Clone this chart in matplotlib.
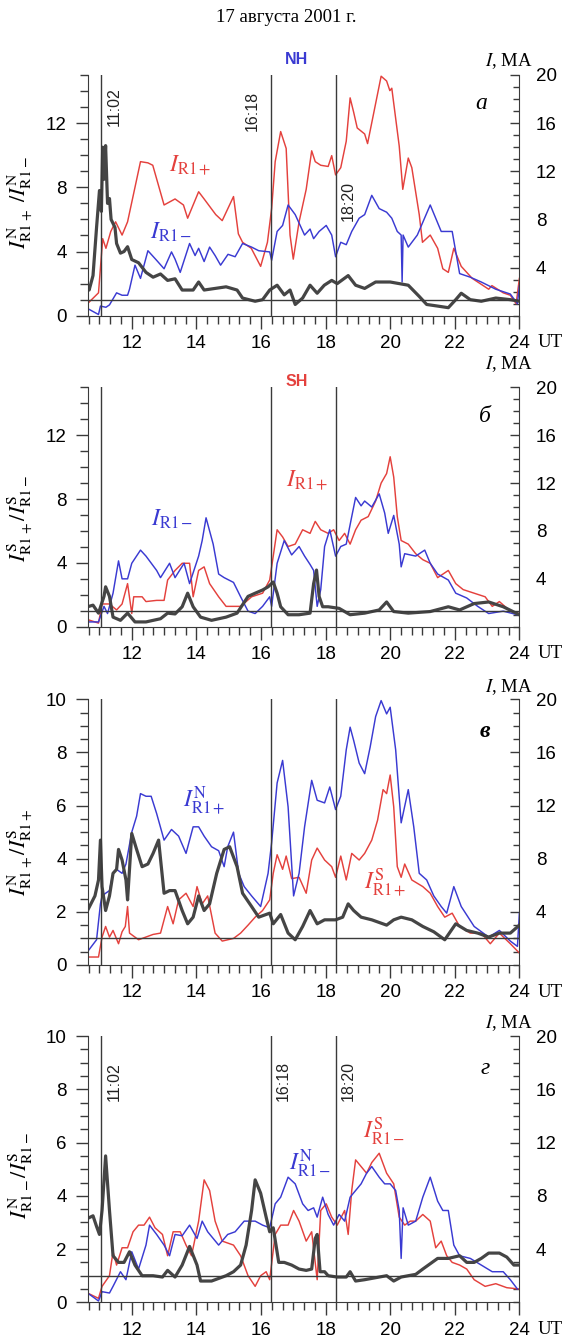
import numpy as np
import matplotlib
matplotlib.use("Agg")
import matplotlib.pyplot as plt
from matplotlib.ticker import MultipleLocator, FixedLocator

plt.rcParams['font.family'] = ['Liberation Sans', 'DejaVu Sans']
plt.rcParams['mathtext.fontset'] = 'stix'

# event times (UT, hours)
events = [11 + 2/60, 16 + 18/60, 18 + 20/60]
event_labels = ['11:02', '16:18', '18:20']

# ---- panel a (NH): I_R1+ (red), I_R1- (blue) in MA, ratio (black) ----
a_red_t = [10.63, 10.97, 11.10, 11.20, 11.35, 11.50, 11.70, 11.87, 12.27, 12.50, 12.65, 13.00, 13.34,
           13.60, 13.73, 14.07, 14.24, 14.60, 14.80, 15.15, 15.30, 15.43, 15.70, 15.99, 16.20, 16.33,
           16.44, 16.61, 16.78, 16.90, 17.00, 17.18, 17.40, 17.57, 17.68, 17.85, 18.08, 18.19, 18.31,
           18.47, 18.64, 18.76, 18.87, 18.98, 19.21, 19.30, 19.72, 19.89, 19.99, 20.05, 20.28, 20.39,
           20.56, 20.67, 20.90, 21.00, 21.24, 21.47, 21.63, 21.80, 21.97, 22.20, 22.54, 23.05, 23.15,
           23.50, 23.72, 23.90, 24.00]
a_red = [1.0, 1.9, 6.4, 5.6, 7.0, 7.8, 6.7, 7.8, 12.8, 12.7, 12.5, 9.2, 9.7,
         9.2, 8.1, 10.3, 9.7, 8.4, 7.9, 9.9, 6.8, 6.1, 5.6, 4.1, 6.1, 8.9,
         12.8, 15.3, 13.9, 6.7, 4.7, 7.8, 10.5, 13.7, 12.8, 12.5, 12.4, 13.3, 11.7,
         12.3, 14.5, 18.1, 16.9, 15.6, 15.1, 14.3, 19.9, 19.5, 18.7, 18.9, 14.1, 10.5,
         13.1, 12.3, 8.4, 6.1, 6.7, 5.6, 3.9, 3.6, 5.6, 4.1, 3.1, 2.2, 2.5,
         1.9, 1.7, 1.0, 3.1]
a_blue_t = [10.63, 10.97, 11.03, 11.20, 11.31, 11.53, 11.70, 11.87, 11.93, 12.10, 12.27, 12.50, 12.77,
            13.00, 13.23, 13.34, 13.50, 13.79, 13.96, 14.07, 14.24, 14.41, 14.58, 14.75, 14.98, 15.20,
            15.43, 15.71, 15.93, 16.27, 16.33, 16.50, 16.67, 16.84, 17.06, 17.35, 17.52, 17.63, 17.80,
            18.02, 18.19, 18.31, 18.47, 18.64, 18.81, 19.04, 19.21, 19.43, 19.66, 19.89, 20.05, 20.22,
            20.34, 20.37, 20.40, 20.56, 20.84, 21.24, 21.58, 21.92, 22.15, 22.48, 22.82, 23.27, 23.72,
            23.94, 24.00]
a_blue = [0.6, 0.1, 0.8, 0.7, 0.9, 1.9, 1.7, 1.7, 2.2, 4.2, 3.1, 5.4, 4.6,
          3.9, 5.3, 4.7, 3.6, 6.0, 5.0, 5.6, 4.5, 5.7, 5.0, 4.2, 5.1, 4.9,
          6.0, 5.7, 5.4, 5.3, 4.6, 7.0, 7.5, 9.2, 8.4, 6.7, 7.2, 6.4, 7.0,
          7.5, 6.7, 4.9, 6.1, 5.9, 7.0, 8.1, 8.4, 10.0, 8.9, 8.6, 8.1, 7.0,
          6.7, 2.8, 6.7, 5.7, 6.7, 9.2, 7.0, 7.0, 3.5, 3.2, 2.8, 2.2, 1.8,
          1.0, 2.5]
a_ratio_t = [10.63, 10.68, 10.80, 10.91, 11.00, 11.06, 11.10, 11.14, 11.19, 11.25, 11.31, 11.36, 11.48,
             11.53, 11.65, 11.76, 11.87, 12.00, 12.21, 12.44, 12.66, 12.89, 13.11, 13.34, 13.56, 13.90,
             14.07, 14.24, 14.58, 14.92, 15.26, 15.43, 15.82, 16.05, 16.27, 16.50, 16.72, 16.90, 17.06,
             17.29, 17.52, 17.74, 17.96, 18.19, 18.36, 18.70, 18.93, 19.21, 19.55, 20.00, 20.28, 20.56,
             20.90, 21.13, 21.47, 21.80, 22.03, 22.20, 22.48, 22.82, 23.27, 23.72, 24.00]
a_ratio = [1.9, 1.6, 2.5, 5.5, 7.8, 6.5, 10.5, 8.5, 10.6, 7.0, 7.3, 6.0, 5.5,
           4.5, 3.9, 4.0, 4.3, 3.5, 3.3, 2.7, 2.4, 2.6, 2.2, 2.3, 1.6, 1.6,
           2.1, 1.6, 1.7, 1.8, 1.6, 1.1, 0.9, 1.0, 1.6, 1.9, 1.3, 1.6, 0.7,
           1.1, 1.9, 1.4, 1.9, 2.2, 2.0, 2.5, 1.9, 1.7, 2.1, 2.1, 2.0, 1.9,
           1.2, 0.7, 0.6, 0.5, 1.0, 1.4, 1.0, 0.9, 1.1, 1.0, 0.9]

# ---- panel b (SH) ----
b_red_t = [10.63, 10.97, 11.08, 11.31, 11.53, 11.70, 11.87, 12.00, 12.06, 12.32, 12.44, 12.77, 13.00,
           13.11, 13.34, 13.56, 13.79, 13.90, 14.07, 14.24, 14.41, 14.69, 14.92, 15.37, 15.71, 16.05,
           16.27, 16.38, 16.50, 16.67, 16.84, 17.06, 17.29, 17.52, 17.68, 17.85, 18.08, 18.25, 18.42,
           18.59, 18.76, 18.93, 19.10, 19.32, 19.55, 19.72, 19.89, 20.00, 20.11, 20.22, 20.34, 20.56,
           20.79, 21.01, 21.24, 21.47, 21.80, 22.03, 22.26, 22.60, 22.94, 23.16, 23.38, 23.72, 24.00]
b_red = [0.6, 0.3, 1.9, 1.9, 1.4, 1.9, 3.6, 1.1, 2.5, 2.5, 2.1, 2.2, 2.2,
         3.9, 4.7, 5.3, 5.3, 2.5, 4.7, 5.0, 3.6, 2.5, 1.7, 1.7, 2.5, 2.8,
         3.9, 5.9, 8.1, 7.5, 6.7, 6.9, 8.1, 7.8, 8.8, 8.1, 7.8, 8.1, 7.2,
         7.8, 6.9, 8.1, 8.9, 9.2, 10.5, 12.0, 12.8, 14.2, 12.5, 9.2, 7.2, 6.9,
         6.1, 5.6, 5.3, 4.1, 4.7, 3.6, 3.1, 2.8, 2.5, 1.7, 2.1, 1.3, 1.1]
b_blue_t = [10.63, 10.97, 11.14, 11.25, 11.42, 11.59, 11.70, 11.87, 12.00, 12.27, 12.44, 12.77, 12.89,
            13.17, 13.34, 13.62, 13.79, 14.07, 14.18, 14.30, 14.52, 14.69, 14.86, 15.15, 15.37, 15.60,
            15.82, 16.05, 16.27, 16.33, 16.50, 16.72, 16.95, 17.18, 17.35, 17.52, 17.63, 17.74, 17.85,
            17.97, 18.13, 18.31, 18.47, 18.64, 18.81, 18.93, 19.10, 19.21, 19.43, 19.66, 19.83, 19.94,
            20.11, 20.28, 20.34, 20.45, 20.79, 21.07, 21.24, 21.47, 21.80, 22.03, 22.37, 22.71, 23.05,
            23.50, 23.94]
b_blue = [0.4, 0.4, 1.7, 1.1, 2.8, 5.5, 4.0, 4.0, 5.3, 6.4, 5.9, 4.7, 4.1,
          5.3, 4.1, 5.3, 3.6, 5.9, 7.2, 9.1, 6.9, 4.4, 4.1, 3.7, 2.5, 1.3,
          1.1, 1.7, 2.5, 1.7, 5.3, 7.2, 6.0, 6.7, 5.9, 5.2, 4.7, 1.7, 3.1,
          6.7, 8.1, 5.9, 6.7, 6.9, 9.2, 10.8, 10.1, 10.5, 10.0, 11.1, 9.5, 7.8,
          9.3, 6.9, 5.0, 6.1, 5.9, 6.4, 5.3, 4.4, 3.9, 2.8, 2.4, 1.7, 1.1,
          1.3, 1.0]
b_ratio_t = [10.63, 10.80, 10.97, 11.14, 11.19, 11.31, 11.42, 11.65, 11.87, 12.10, 12.44, 12.89, 13.11,
             13.34, 13.56, 13.73, 13.90, 14.13, 14.47, 14.92, 15.26, 15.60, 15.82, 16.05, 16.22, 16.38,
             16.50, 16.61, 16.84, 17.18, 17.52, 17.63, 17.72, 17.80, 17.91, 18.08, 18.42, 18.76, 19.21,
             19.66, 19.89, 20.11, 20.56, 21.24, 21.80, 22.15, 22.60, 23.05, 23.50, 24.00]
b_ratio = [1.25, 1.35, 0.85, 1.9, 2.5, 1.9, 0.6, 0.4, 0.85, 0.3, 0.3, 0.5, 0.85,
           0.8, 1.25, 2.1, 1.25, 0.6, 0.4, 0.6, 0.85, 1.9, 2.1, 2.3, 2.5, 2.8,
           2.1, 1.25, 0.75, 0.75, 0.85, 2.7, 3.55, 1.9, 1.25, 1.25, 1.15, 0.75, 0.85,
           1.05, 1.55, 0.95, 0.85, 0.95, 1.25, 1.05, 1.45, 1.55, 1.25, 0.75]

# ---- panel c: I^N_R1+ (blue), I^S_R1+ (red) ----
c_blue_t = [10.63, 10.91, 11.03, 11.08, 11.19, 11.31, 11.42, 11.53, 11.70, 11.82, 12.00, 12.15, 12.27,
            12.44, 12.60, 12.77, 13.00, 13.23, 13.45, 13.68, 13.90, 14.07, 14.24, 14.47, 14.69, 14.86,
            14.97, 15.15, 15.31, 15.48, 15.71, 15.99, 16.22, 16.33, 16.50, 16.67, 16.84, 17.01, 17.18,
            17.35, 17.57, 17.74, 17.97, 18.13, 18.31, 18.47, 18.64, 18.76, 18.87, 19.04, 19.21, 19.38,
            19.55, 19.72, 19.89, 20.00, 20.17, 20.34, 20.56, 20.73, 20.90, 21.13, 21.35, 21.58, 21.75,
            21.97, 22.20, 22.60, 23.05, 23.38, 23.72, 23.94, 24.00]
c_blue = [1.0, 1.9, 4.6, 5.2, 5.4, 5.6, 6.9, 7.2, 6.9, 7.6, 10.0, 11.2, 12.9,
          12.7, 12.7, 11.4, 9.4, 10.2, 9.7, 8.4, 10.4, 10.4, 9.7, 8.9, 8.6, 7.4,
          8.9, 10.0, 6.9, 5.9, 5.2, 4.4, 6.9, 9.2, 13.7, 15.4, 11.9, 5.2, 6.9,
          10.4, 13.9, 12.4, 12.2, 13.4, 11.7, 12.7, 16.2, 17.9, 16.9, 15.2, 14.4, 16.4,
          18.7, 19.9, 18.9, 19.4, 16.2, 10.7, 13.2, 10.4, 6.9, 6.4, 5.2, 4.4, 3.9,
          5.9, 4.4, 2.9, 2.1, 2.6, 1.8, 1.4, 3.9]
c_red_t = [10.63, 10.97, 11.08, 11.19, 11.31, 11.42, 11.59, 11.70, 11.80, 11.87, 11.93, 12.21, 12.66,
           12.89, 13.11, 13.28, 13.45, 13.68, 13.90, 14.02, 14.18, 14.35, 14.58, 14.80, 15.15, 15.37,
           15.60, 15.82, 16.05, 16.27, 16.38, 16.50, 16.67, 16.78, 16.95, 17.18, 17.40, 17.57, 17.74,
           17.97, 18.19, 18.31, 18.47, 18.64, 18.81, 19.04, 19.21, 19.43, 19.61, 19.78, 19.89, 20.00,
           20.11, 20.22, 20.34, 20.45, 20.67, 21.01, 21.24, 21.47, 21.69, 21.92, 22.15, 22.48, 22.82,
           23.10, 23.38, 23.72, 24.00]
c_red = [0.6, 0.6, 2.1, 2.9, 2.1, 2.6, 1.6, 2.5, 2.9, 4.4, 2.4, 1.9, 2.3,
         2.4, 4.4, 3.1, 4.9, 5.4, 4.4, 5.9, 4.6, 5.2, 2.4, 1.8, 2.0, 2.4,
         3.0, 3.6, 4.1, 4.9, 6.9, 8.3, 7.2, 8.2, 6.5, 6.6, 5.4, 7.9, 8.8,
         7.9, 7.4, 6.6, 8.2, 6.4, 8.4, 7.9, 8.4, 9.4, 10.9, 13.2, 12.9, 14.3,
         11.9, 7.4, 6.6, 7.6, 6.4, 5.9, 5.4, 4.4, 3.6, 3.9, 2.9, 2.4, 2.4,
         1.6, 2.4, 1.6, 0.9]
c_ratio_t = [10.63, 10.86, 10.97, 11.03, 11.08, 11.19, 11.31, 11.42, 11.53, 11.59, 11.70, 11.82, 11.87,
             12.00, 12.15, 12.32, 12.50, 12.66, 12.83, 13.00, 13.17, 13.34, 13.56, 13.73, 13.90, 14.07,
             14.24, 14.41, 14.63, 14.86, 15.03, 15.26, 15.43, 15.71, 15.93, 16.27, 16.38, 16.61, 16.84,
             17.06, 17.29, 17.52, 17.74, 17.97, 18.31, 18.53, 18.70, 18.87, 19.10, 19.43, 19.89, 20.11,
             20.34, 20.67, 21.01, 21.35, 21.69, 22.03, 22.37, 22.71, 23.05, 23.38, 23.72, 24.00]
c_ratio = [2.05, 2.6, 3.2, 4.7, 2.95, 2.05, 2.6, 3.45, 3.6, 4.35, 3.95, 3.2, 2.45,
           4.95, 4.35, 3.7, 3.8, 4.2, 4.7, 2.7, 2.8, 2.8, 2.05, 1.55, 1.8, 2.6,
           2.05, 2.3, 3.45, 4.35, 4.45, 3.7, 2.7, 2.2, 1.8, 1.95, 1.55, 1.9, 1.2,
           0.95, 1.45, 2.05, 1.55, 1.7, 1.7, 1.8, 2.3, 2.05, 1.8, 1.7, 1.5, 1.7,
           1.8, 1.7, 1.45, 1.25, 0.95, 1.55, 1.3, 1.2, 1.05, 1.2, 1.2, 1.5]

# ---- panel d: I^N_R1- (blue), I^S_R1- (red) ----
d_blue_t = [10.63, 10.86, 10.97, 11.08, 11.31, 11.42, 11.65, 11.82, 12.00, 12.21, 12.44, 12.55, 12.77,
            13.00, 13.17, 13.34, 13.56, 13.79, 14.02, 14.18, 14.35, 14.69, 14.97, 15.20, 15.48, 15.82,
            16.05, 16.27, 16.44, 16.61, 16.84, 17.06, 17.29, 17.46, 17.63, 17.74, 17.91, 18.08, 18.25,
            18.42, 18.59, 18.76, 18.93, 19.10, 19.27, 19.43, 19.66, 19.83, 20.00, 20.17, 20.28, 20.34,
            20.40, 20.56, 20.79, 21.01, 21.24, 21.47, 21.63, 21.80, 21.97, 22.15, 22.48, 22.82, 23.16,
            23.50, 23.72, 23.94]
d_blue = [0.7, 0.3, 0.1, 0.8, 0.7, 1.2, 2.3, 1.7, 3.8, 2.5, 4.3, 5.8, 5.1,
          4.3, 3.5, 5.1, 5.0, 5.8, 4.8, 6.1, 5.3, 4.3, 5.1, 5.3, 6.1, 6.1,
          5.8, 5.6, 7.4, 7.9, 9.4, 8.9, 7.4, 6.9, 7.1, 6.4, 7.9, 6.6, 5.8,
          6.6, 6.1, 7.9, 8.4, 8.9, 9.7, 10.2, 9.4, 8.9, 8.9, 8.4, 6.9, 3.3,
          7.1, 5.8, 6.1, 7.9, 9.4, 7.6, 6.9, 6.9, 4.3, 3.5, 3.3, 2.8, 2.3,
          2.3, 1.7, 1.0]
d_red_t = [10.63, 10.97, 11.08, 11.31, 11.42, 11.53, 11.70, 11.87, 12.04, 12.21, 12.38, 12.55, 12.72,
           12.95, 13.11, 13.28, 13.50, 13.68, 13.85, 14.07, 14.24, 14.41, 14.58, 14.80, 15.15, 15.37,
           15.60, 15.82, 15.99, 16.16, 16.27, 16.44, 16.61, 16.84, 17.01, 17.18, 17.40, 17.57, 17.74,
           17.85, 18.02, 18.19, 18.36, 18.59, 18.70, 18.81, 18.93, 19.10, 19.27, 19.43, 19.66, 19.89,
           20.11, 20.28, 20.45, 20.62, 20.79, 21.01, 21.24, 21.41, 21.58, 21.75, 21.92, 22.15, 22.37,
           22.60, 22.94, 23.27, 23.61, 24.00]
d_red = [0.7, 0.3, 1.2, 2.0, 3.8, 2.8, 4.1, 4.1, 5.3, 5.8, 5.8, 6.4, 5.6,
         5.1, 3.5, 5.3, 5.3, 4.3, 3.5, 6.1, 9.2, 8.4, 6.1, 4.6, 4.3, 3.5,
         2.0, 1.2, 2.0, 2.3, 1.7, 5.1, 5.8, 5.8, 6.9, 6.1, 4.6, 5.3, 1.7,
         6.9, 7.4, 6.4, 5.8, 6.9, 5.1, 8.4, 10.7, 10.2, 9.7, 10.5, 11.2, 9.7,
         8.9, 6.4, 5.8, 6.1, 6.1, 6.6, 6.1, 4.1, 4.6, 3.5, 3.0, 2.8, 2.5,
         1.7, 1.2, 1.4, 1.1, 1.0]
d_ratio_t = [10.63, 10.80, 10.91, 11.00, 11.08, 11.19, 11.31, 11.42, 11.59, 11.76, 11.93, 12.10, 12.32,
             12.66, 12.95, 13.11, 13.34, 13.56, 13.79, 14.02, 14.13, 14.47, 14.92, 15.15, 15.37, 15.54,
             15.71, 15.82, 15.99, 16.16, 16.27, 16.38, 16.55, 16.72, 16.95, 17.18, 17.40, 17.57, 17.68,
             17.74, 17.83, 17.97, 18.08, 18.36, 18.64, 18.76, 18.93, 19.21, 19.66, 19.89, 20.11, 20.34,
             20.56, 20.79, 21.01, 21.24, 21.47, 21.80, 22.15, 22.37, 22.60, 22.82, 23.05, 23.38, 23.61,
             23.83, 24.00]
d_ratio = [3.15, 3.25, 2.85, 2.55, 3.45, 5.5, 3.45, 1.75, 1.5, 1.5, 1.9, 1.4, 1.0,
           1.0, 0.95, 1.2, 0.95, 1.4, 2.1, 1.4, 0.8, 0.8, 1.0, 1.15, 1.4, 2.15,
           3.45, 4.6, 4.1, 3.2, 2.65, 2.8, 1.5, 1.5, 1.4, 1.25, 1.2, 1.25, 2.4,
           2.55, 1.15, 1.15, 1.0, 0.95, 0.95, 1.15, 0.8, 0.85, 0.95, 1.0, 0.8, 0.95,
           1.0, 1.05, 1.25, 1.45, 1.65, 1.65, 1.75, 1.5, 1.5, 1.65, 1.85, 1.85, 1.7,
           1.4, 1.4]

RED = '#e4413d'
BLUE = '#3a3ad2'
DARK = '#454545'
LINE = '#3a3a3a'

fig = plt.figure(figsize=(5.72, 13.44), dpi=100)
fig.text(0.5, 1 - 17/1344, '17 августа 2001 г.', ha='center', va='center',
         fontsize=13.5, family='Liberation Serif')

panels = [
    dict(rect=[0.153, 0.7651, 0.755, 0.1791], ylim=15, ymaj=4, ymin=1,
         red=(a_red_t, a_red), blue=(a_blue_t, a_blue), ratio=(a_ratio_t, a_ratio),
         ylabel=r'$I^{\rm N}_{\rm R1+}\ /I^{\rm N}_{\rm R1-}$', letter='а', lab_y=0.47,
         red_lab=(13.15, 9.4, r'$I_{\rm R1+}$'), blue_lab=(12.55, 5.2, r'$I_{\rm R1-}$'),
         hemi=('NH', BLUE, 11), ma_off=10,
         times=[(11.47, 13.0), (15.73, 12.75), (18.71, 7.15)]),
    dict(rect=[0.153, 0.5337, 0.755, 0.1781], ylim=15, ymaj=4, ymin=1,
         red=(b_red_t, b_red), blue=(b_blue_t, b_blue), ratio=(b_ratio_t, b_ratio),
         ylabel=r'$I^{\rm S}_{\rm R1+}/I^{\rm S}_{\rm R1-}$', letter='б', lab_y=0.454,
         red_lab=(16.78, 9.2, r'$I_{\rm R1+}$'), blue_lab=(12.6, 6.7, r'$I_{\rm R1-}$'),
         hemi=('SH', RED, 4), ma_off=17, times=None),
    dict(rect=[0.153, 0.2820, 0.755, 0.1977], ylim=10, ymaj=2, ymin=0.5,
         red=(c_red_t, c_red), blue=(c_blue_t, c_blue), ratio=(c_ratio_t, c_ratio),
         ylabel=r'$I^{\rm N}_{\rm R1+}/I^{\rm S}_{\rm R1+}$', letter='в', lab_y=0.425,
         red_lab=(19.2, 3.1, r'$I^{\rm S}_{\rm R1+}$'), blue_lab=(13.6, 6.2, r'$I^{\rm N}_{\rm R1+}$'),
         hemi=None, ma_off=9, times=None),
    dict(rect=[0.153, 0.0310, 0.755, 0.1981], ylim=10, ymaj=2, ymin=0.5,
         red=(d_red_t, d_red), blue=(d_blue_t, d_blue), ratio=(d_ratio_t, d_ratio),
         ylabel=r'$I^{\rm N}_{\rm R1-}/I^{\rm S}_{\rm R1-}$', letter='г', lab_y=0.478,
         red_lab=(19.15, 6.4, r'$I^{\rm S}_{\rm R1-}$'), blue_lab=(16.88, 5.2, r'$I^{\rm N}_{\rm R1-}$'),
         hemi=None, ma_off=9,
         times=[(11.45, 8.3), (16.69, 8.3), (18.71, 8.3)]),
]

for p in panels:
    ax = fig.add_axes(p['rect'])
    ax2 = ax.twinx()
    ax.set_zorder(ax2.get_zorder() + 1)
    ax.patch.set_visible(False)

    ax2.plot(*p['red'], color=RED, lw=1.05)
    ax2.plot(*p['blue'], color=BLUE, lw=1.05)
    ax.plot(*p['ratio'], color=DARK, lw=2.3, solid_joinstyle='round')
    ax.axhline(1, color=LINE, lw=1.0)
    for ev in events:
        ax.axvline(ev, color=LINE, lw=1.0)

    ax.set_xlim(10.63, 24)
    ax.set_ylim(0, p['ylim'])
    ax2.set_ylim(0, 20)

    ax.xaxis.set_major_locator(FixedLocator([12, 14, 16, 18, 20, 22, 24]))
    ax.xaxis.set_minor_locator(MultipleLocator(1/3))
    ax.yaxis.set_major_locator(MultipleLocator(p['ymaj']))
    ax.yaxis.set_minor_locator(MultipleLocator(p['ymin']))
    ax2.yaxis.set_major_locator(FixedLocator([4, 8, 12, 16, 20]))
    ax2.yaxis.set_minor_locator(MultipleLocator(1))

    ax.tick_params(axis='both', which='major', direction='out', length=9, width=1,
                   labelsize=13.5, color=LINE, pad=5)
    ax.tick_params(axis='both', which='minor', direction='out', length=5.5, width=1, color=LINE)
    ax.tick_params(axis='y', pad=6)
    ax2.tick_params(axis='y', which='major', direction='in', length=6.5, width=1,
                    labelsize=13.5, color=LINE, pad=12)
    ax2.tick_params(axis='y', which='minor', direction='in', length=4.5, width=1, color=LINE)

    for s in ['top', 'right']:
        ax.spines[s].set_visible(False)
    for s in ['top', 'left', 'bottom']:
        ax2.spines[s].set_visible(False)
    for s in ['left', 'bottom']:
        ax.spines[s].set_color(LINE)
    ax2.spines['right'].set_color(LINE)

    ax.set_ylabel(p['ylabel'], fontsize=16)
    ax.yaxis.set_label_coords(-0.122, p['lab_y'])

    ax.annotate('UT', xy=(1, 0), xycoords='axes fraction', xytext=(13, -19.5),
                textcoords='offset points', va='center', ha='left', fontsize=13.5,
                family='Liberation Serif')
    ax.annotate(r'$I$, MA', xy=(1, 1), xycoords='axes fraction', xytext=(10, p['ma_off']),
                textcoords='offset points', va='center', ha='right', fontsize=13.5,
                family='Liberation Serif')
    ax.text(0.912 if p['letter'] == 'а' else 0.92, 0.88, p['letter'], transform=ax.transAxes,
            ha='center', va='center', fontsize=17, style='italic',
            weight='bold' if p['letter'] == 'в' else 'normal', family='Liberation Serif')

    x, y, s = p['red_lab']
    ax.text(x, y, s, color=RED, fontsize=17, ha='left', va='center')
    x, y, s = p['blue_lab']
    ax.text(x, y, s, color=BLUE, fontsize=17, ha='left', va='center')

    if p['hemi']:
        name, col, off = p['hemi']
        ax.annotate(name, xy=(17.1, 1), xycoords=('data', 'axes fraction'), xytext=(0, off),
                    textcoords='offset points', ha='center', va='center', color=col,
                    fontsize=11.5, weight='bold')
    if p['times']:
        for (tx, ty), lab in zip(p['times'], event_labels):
            ax.text(tx, ty, lab, rotation=90, ha='center', va='center', fontsize=11.5, color='#222222')

fig.savefig('out.png', dpi=100)
